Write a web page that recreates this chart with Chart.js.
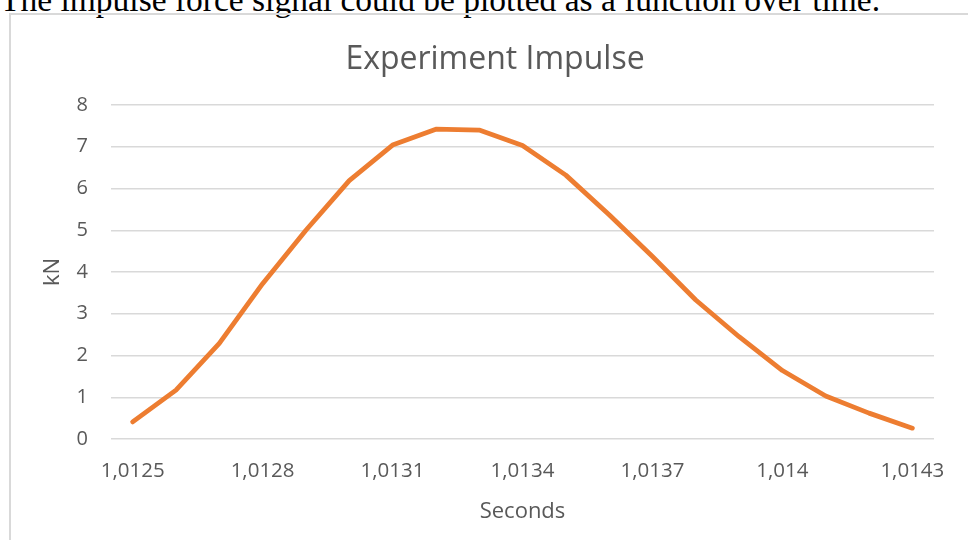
<!DOCTYPE html>
<html>
<head>
<meta charset="utf-8">
<script src="https://cdn.jsdelivr.net/npm/chart.js@4.4.1/dist/chart.umd.min.js"></script>
<style>
    html, body { margin: 0; padding: 0; background: #fff; overflow: hidden; }
    body { width: 968px; height: 540px; position: relative; }
    .caption {
        position: absolute; left: 0; top: -17px;
        font-family: "Liberation Serif", serif; font-size: 33.5px; line-height: 33px;
        color: #000; white-space: nowrap;
    }
    .box {
        position: absolute; left: 9px; top: 13px; width: 1000px; height: 600px;
        border: 2px solid #d9d9d9;
    }
    #impulseChart { position: absolute; left: 0; top: 0; }
</style>
</head>
<body>
<div class="caption">The impulse force signal could be plotted as a function over time.</div>
<div class="box"></div>
<canvas id="impulseChart" width="968" height="540"></canvas>
<script>
const seconds = ['1,0125', '1,0126', '1,0127', '1,0128', '1,0129', '1,013', '1,0131',
    '1,0132', '1,0133', '1,0134', '1,0135', '1,0136', '1,0137', '1,0138',
    '1,0139', '1,014', '1,0141', '1,0142', '1,0143'];
const forceKN = [0.41, 1.17, 2.29, 3.72, 5.0, 6.19, 7.04, 7.42, 7.40, 7.03,
    6.32, 5.37, 4.37, 3.33, 2.45, 1.64, 1.03, 0.62, 0.26];
const yTicks = [0, 1, 2, 3, 4, 5, 6, 7, 8];

const textGray = '#595959';
const font = 'Open Sans';

const ctx = document.getElementById('impulseChart');

// left padding keeps the title centred on the framed box, not the canvas
new Chart(ctx, {
    type: 'line',
    data: {
        labels: seconds,
        datasets: [{
            label: 'kN',
            data: forceKN,
            borderColor: '#ED7D31',
            borderWidth: 4.8,
            borderCapStyle: 'round',
            borderJoinStyle: 'round',
            pointRadius: 0,
            tension: 0,
            fill: false
        }]
    },
    options: {
        responsive: false,
        devicePixelRatio: 1,
        animation: false,
        layout: { padding: { left: 56, right: 34, top: 0, bottom: 0 } },
        plugins: {
            legend: { display: false },
            tooltip: { enabled: false },
            title: {
                display: true,
                text: 'Experiment Impulse',
                color: textGray,
                font: { family: font, size: 32, weight: 'normal', lineHeight: 1.2 },
                padding: { top: 41, bottom: 25.6 }
            }
        },
        scales: {
            x: {
                type: 'category',
                offset: true,
                grid: { display: false, drawTicks: false },
                border: { display: false },
                ticks: {
                    autoSkip: false,
                    maxRotation: 0,
                    padding: 20,
                    color: textGray,
                    font: { family: font, size: 20.5 },
                    callback: function (value, index) {
                        return index % 3 === 0 ? this.getLabelForValue(value) : '';
                    }
                },
                title: {
                    display: true,
                    text: 'Seconds',
                    color: textGray,
                    font: { family: font, size: 22, lineHeight: 1.2 },
                    padding: { top: 0, bottom: 15 }
                },
                afterFit: function (scale) { scale.height = 101; }
            },
            y: {
                min: yTicks[0],
                max: yTicks[yTicks.length - 1],
                grid: { color: '#d9d9d9', lineWidth: 1.5, drawTicks: false },
                border: { display: false },
                afterBuildTicks: function (scale) {
                    scale.ticks = yTicks.map(v => ({ value: v }));
                },
                ticks: {
                    padding: 23,
                    color: textGray,
                    font: { family: font, size: 20 }
                },
                title: {
                    display: true,
                    text: 'kN',
                    color: textGray,
                    font: { family: font, size: 22, lineHeight: 1.2 },
                    padding: { top: -16.2, bottom: 0 }
                },
                afterFit: function (scale) { scale.width = 55; }
            }
        }
    }
});
</script>
</body>
</html>
